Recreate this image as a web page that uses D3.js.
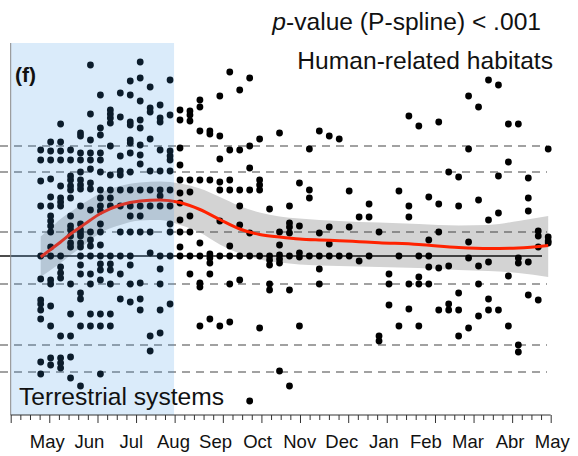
<!DOCTYPE html>
<html><head><meta charset="utf-8">
<script src="https://cdn.jsdelivr.net/npm/d3@7"></script>
<style>
body{margin:0;background:#fff}
svg{display:block}
text{font-family:"Liberation Sans",Arial,Helvetica,sans-serif;fill:#111}
</style>
</head><body>
<svg id="chart" width="578" height="456"></svg>
<script>
// ---- data (unitless effect, 0 = reference line)
const monthLabels = ["May","Jun","Jul","Aug","Sep","Oct","Nov","Dec","Jan","Feb","Mar","Abr","May"];
const majorTickWeeks = [0,4,9,13,17,22,26,30,35,39,44,48,52,56];
const refLevels = [1.10, 0.84, 0.24, -0.28, -0.89, -1.16];
const terrestrialWeeks = [-3, 13.4]; // shaded period, in sampling-week units

// observed values per sampling week (52 weeks)
const weekValues = [
 [1.06,0.96,0.75,0.50,0,-0.23,-0.44,-0.48,-0.54,-0.63,-1.06,-1.18],
 [1.14,1.05,0.96,0.77,0.59,0.50,0.40,0.35,0.30,0.24,0.09,0,-0.24,-0.28,-0.50,-0.70,-1.02,-1.09],
 [1.32,1.14,1.05,0.96,0.70,0.58,0.54,0.50,0,-0.11,-0.17,-0.22,-0.80,-1.02,-1.07,-1.12],
 [1.06,0.96,0.80,0.76,0.70,0.66,0.58,0.40,0.30,0.26,0.20,0.13,0.09,-0.28,-0.58,-0.80,-1.01,-1.22],
 [1.23,1.20,1.03,0.96,0.84,0.76,0.71,0.67,0.50,0.32,0.26,0.23,0.20,0.13,0.09,0,-0.09,-0.18,-0.37,-0.43,-0.70,-1.30],
 [1.91,1.42,1.16,1.03,0.96,0.87,0.73,0.67,0.46,0.24,0.16,0.10,0,-0.18,-0.28,-0.58,-0.70],
 [1.61,1.28,1.21,1.03,0.96,0.84,0.66,0.58,0.50,0.45,0.32,0.24,0.11,0,-0.08,-0.14,-0.24,-0.58,-0.70,-1.18],
 [1.46,1.42,1.38,1.33,1.10,0.81,0.66,0.58,0.50,0,-0.08,-0.14,-0.28,-0.58,-0.70],
 [1.63,1.39,1.00,0.85,0.81,0.66,0.50,0.24,0,-0.18,-0.43],
 [1.75,1.61,1.34,1.31,1.16,1.13,1.03,0.84,0.66,0.50,0.40,0.24,0,-0.09,-0.28,-0.46],
 [1.94,1.78,1.55,1.36,1.28,1.11,1.01,0.92,0.66,0.50,0.40,0.24,-0.27,-0.43,-0.54],
 [1.69,1.48,1.44,1.17,0.85,0.66,0.50,0.24,0.03,-0.80,-0.95],
 [1.51,1.38,1.34,1.06,0.85,0.66,0.60,0.50,0,-0.13,-0.28,-0.54,-0.77],
 [1.76,1.41,1.05,1.00,0.96,0.85,0.66,0.50,0.32,0.24,0,-0.48],
 [1.46,1.36,1.08,0.91,0.76,0.63,0.53,0.36,0.24,0.09,0],
 [1.45,1.41,1.35,0.76,0.64,0.40,0.24,0,-0.18],
 [1.56,1.49,1.25,0.76,0.13,0,-0.27,-0.31,-0.70],
 [1.25,1.22,0.76,0.02,-0.02,-0.07,-0.18,-0.63],
 [1.60,1.20,0.97,0.74,0.66,0.35,0,-0.70],
 [1.84,1.06,0.76,0.66,0.10,0,-0.28,-0.66],
 [1.66,1.06,0.66,0.50,0.31,0,-0.24],
 [1.78,1.10,0.88,0.66,0.23,0,-1.45],
 [1.17,0.76,0.71,0.66,0,-0.72],
 [0.47,0,-0.04,-0.09,-0.28,-0.34],
 [1.23,0.24,0.11,0.01,-0.03,-0.07,-1.15],
 [0.50,0.33,0.29,0.23,0,-0.34,-1.30],
 [0.73,0.30,0.03,-0.01,-0.70],
 [1.07,0.66,0.58,0],
 [1.25,0.23,0,-0.13,-0.28],
 [1.20,0.29,0.12,0],
 [1.17,0],
 [0.65,0.29,0],
 [0.39,-0.05],
 [0.52,0.39,0],
 [0.24,-0.80,-0.85],
 [-0.18,-0.28,-0.49],
 [0.65,0,-0.70],
 [1.40,0.50,0.39,-0.28,-0.53],
 [1.30,0,-0.21,-0.28,-0.70],
 [0.59,0.16,0,-0.11,-0.28],
 [1.34,0.52,0.24,-0.12,-0.54],
 [0.84,-0.10,-0.48,-0.54],
 [0.79,0.50,-0.37,-0.54,-0.80],
 [1.60,1.07,0.14,-0.02,-0.72],
 [1.49,0.56,-0.10,-0.28,-0.60],
 [1.76,0.36,-0.06,-0.43,-0.54],
 [1.71,0.80,0.43,-0.54],
 [1.32,0.94,-0.20,-0.70],
 [1.32,-0.02,-0.07,-0.89,-0.96],
 [0.78,0.58,0.45,-0.06,-0.39],
 [0.25,0.20,0.09,-0.44],
 [1.07,0.19,0.15,0.13]
];

// P-spline fit and confidence band
const fitWeek  = [0,1,2,3,4,5,6,8,10,12,14,16,18,20,22,24,26,28,30,32,34,38,42,45,48,51];
const fitMean  = [-0.01,0.065,0.14,0.22,0.29,0.36,0.425,0.51,0.55,0.56,0.535,0.465,0.365,0.27,0.215,0.19,0.17,0.16,0.153,0.143,0.133,0.115,0.085,0.075,0.08,0.105];
const fitUpper = [0.195,0.28,0.37,0.44,0.51,0.57,0.63,0.70,0.735,0.745,0.725,0.675,0.59,0.50,0.435,0.395,0.375,0.36,0.35,0.34,0.335,0.32,0.305,0.31,0.35,0.40];
const fitLower = [-0.21,-0.14,-0.07,0.01,0.08,0.16,0.23,0.31,0.355,0.36,0.31,0.235,0.115,0.025,-0.035,-0.065,-0.085,-0.095,-0.10,-0.105,-0.11,-0.12,-0.14,-0.15,-0.17,-0.21];

// ---- scales
const svg = d3.select("#chart");
const plotL = 10.7, plotR = 550.7, plotT = 43, plotB = 415;
const xWeek  = d3.scaleLinear().domain([0, 51]).range([40.7, 548.2]);   // sampling weeks
const xTick  = d3.scaleLinear().domain([0, 56]).range([plotL, plotR]);  // axis tick grid
const xMonth = d3.scaleLinear().domain([0, 12]).range([46.7, 551.7]);   // month labels
const y = d3.scaleLinear().domain([-1.59, 2.13]).range([plotB, plotT]);

// ---- confidence band
const fitData = fitWeek.map((w,i)=>({w, m:fitMean[i], lo:fitLower[i], hi:fitUpper[i]}));
svg.append("path").datum(fitData)
  .attr("d", d3.area().x(d=>xWeek(d.w)).y0(d=>y(d.lo)).y1(d=>y(d.hi)).curve(d3.curveMonotoneX))
  .attr("fill", "#d3d3d3");

// ---- reference lines
svg.selectAll("line.ref").data(refLevels).join("line")
  .attr("x1", 0).attr("x2", 547).attr("y1", d=>y(d)).attr("y2", d=>y(d))
  .attr("stroke", "#444").attr("stroke-width", 1.1).attr("stroke-dasharray", "8,6");
svg.append("line").attr("x1", 0).attr("x2", 542).attr("y1", y(0)).attr("y2", y(0))
  .attr("stroke", "#111").attr("stroke-width", 1.6);

// ---- points
const pts = [];
weekValues.forEach((vals, w) => vals.forEach(v => pts.push({w, v})));
svg.selectAll("circle.pt").data(pts).join("circle")
  .attr("cx", d=>xWeek(d.w)).attr("cy", d=>y(d.v)).attr("r", 3.4).attr("fill", "#000");

// ---- fitted line
svg.append("path").datum(fitData)
  .attr("d", d3.line().x(d=>xWeek(d.w)).y(d=>y(d.m)).curve(d3.curveMonotoneX))
  .attr("fill", "none").attr("stroke", "#ff2200").attr("stroke-width", 3);

// ---- terrestrial period overlay
svg.append("rect")
  .attr("x", plotL).attr("y", plotT)
  .attr("width", xWeek(terrestrialWeeks[1]) - plotL).attr("height", plotB - plotT)
  .attr("fill", "#3d95e6").attr("fill-opacity", 0.19);

// ---- axes
svg.append("line").attr("x1", plotL).attr("x2", plotL).attr("y1", plotT).attr("y2", plotB)
  .attr("stroke", "#888").attr("stroke-width", 1);
const tickAxis = d3.axisBottom(xTick).tickValues(d3.range(0, 57)).tickSize(5).tickFormat("");
const gT = svg.append("g").attr("transform", `translate(0,${plotB})`).call(tickAxis);
gT.select(".domain").attr("stroke", "#333").attr("d", `M${plotL},0H${plotR}`);
gT.selectAll(".tick line").attr("stroke", "#333")
  .attr("y2", d => majorTickWeeks.includes(d) ? 8 : 5);
const labAxis = d3.axisBottom(xMonth).tickValues(d3.range(0, 13)).tickSize(0)
  .tickFormat(i => monthLabels[i]);
const gL = svg.append("g").attr("transform", `translate(0,${plotB})`).call(labAxis);
gL.select(".domain").remove();
gL.selectAll("text").attr("dy", 0).attr("y", 33).attr("font-size", 18.5)
  .attr("font-family", "'Liberation Sans',Arial,sans-serif").attr("fill", "#111");

// ---- texts
const t1 = svg.append("text").attr("x", 541).attr("y", 30).attr("text-anchor", "end").attr("font-size", 24.6);
t1.append("tspan").attr("font-style", "italic").text("p");
t1.append("tspan").text("-value (P-spline) < .001");
svg.append("text").attr("x", 553).attr("y", 69).attr("text-anchor", "end").attr("font-size", 24.6)
  .text("Human-related habitats");
svg.append("text").attr("x", 15).attr("y", 82).attr("font-size", 21).attr("font-weight", "bold")
  .text("(f)");
svg.append("text").attr("x", 19).attr("y", 405).attr("font-size", 24.6)
  .text("Terrestrial systems");
</script>
</body></html>
